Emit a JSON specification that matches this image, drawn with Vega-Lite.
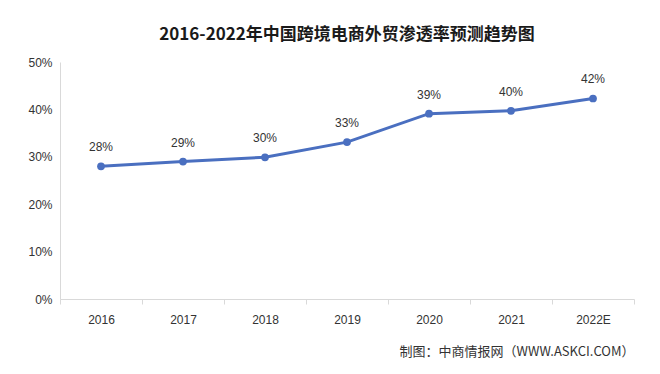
{
  "$schema": "https://vega.github.io/schema/vega-lite/v6.json",
  "width": 574,
  "height": 237,
  "autosize": {"type": "none"},
  "padding": {"left": 60, "top": 62, "right": 26, "bottom": 75},
  "background": "white",
  "title": {
    "text": "2016-2022年中国跨境电商外贸渗透率预测趋势图",
    "font": "Noto Sans CJK SC",
    "fontSize": 17,
    "fontWeight": "bold",
    "color": "#1a1a1a",
    "anchor": "middle",
    "offset": 12
  },
  "data": {
    "values": [
      {"year": "2016", "rate": 28.0, "label": "28%"},
      {"year": "2017", "rate": 29.0, "label": "29%"},
      {"year": "2018", "rate": 29.9, "label": "30%"},
      {"year": "2019", "rate": 33.1, "label": "33%"},
      {"year": "2020", "rate": 39.1, "label": "39%"},
      {"year": "2021", "rate": 39.7, "label": "40%"},
      {"year": "2022E", "rate": 42.3, "label": "42%"}
    ]
  },
  "encoding": {
    "x": {
      "field": "year",
      "type": "ordinal",
      "sort": null,
      "scale": {"paddingInner": 0, "paddingOuter": 0},
      "axis": {
        "title": "制图：中商情报网（WWW.ASKCI.COM）",
        "titleAnchor": "end",
        "titleAlign": "right",
        "titleFont": "Noto Sans CJK SC",
        "titleFontSize": 13,
        "titleFontWeight": "normal",
        "titleColor": "#333333",
        "titlePadding": 20,
        "labelAngle": 0,
        "labelFont": "Liberation Sans",
        "labelFontSize": 12,
        "labelColor": "#333333",
        "labelPadding": 10,
        "domainColor": "#d9d9d9",
        "tickColor": "#d9d9d9",
        "tickBand": "extent",
        "tickSize": 5,
        "grid": false
      }
    },
    "y": {
      "field": "rate",
      "type": "quantitative",
      "scale": {"domain": [0, 50]},
      "axis": {
        "title": null,
        "values": [0, 10, 20, 30, 40, 50],
        "labelExpr": "datum.value + '%'",
        "labelFont": "Liberation Sans",
        "labelFontSize": 12,
        "labelColor": "#333333",
        "labelPadding": 8,
        "ticks": false,
        "grid": false,
        "domainColor": "#d9d9d9"
      }
    }
  },
  "layer": [
    {
      "mark": {"type": "line", "color": "#4a6fc0", "strokeWidth": 3}
    },
    {
      "mark": {"type": "point", "filled": true, "color": "#4a6fc0", "size": 60, "opacity": 1}
    },
    {
      "mark": {"type": "text", "dy": -19, "font": "Liberation Sans", "fontSize": 12, "color": "#333333"},
      "encoding": {"text": {"field": "label"}}
    }
  ],
  "config": {
    "view": {"stroke": null}
  }
}
